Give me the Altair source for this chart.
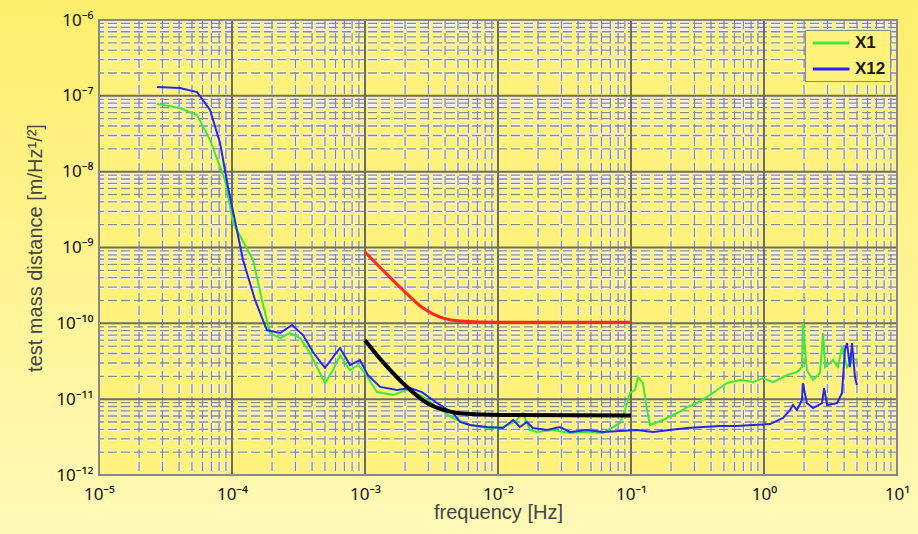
import altair as alt
import pandas as pd

# ---------------- data ----------------
freq_x1 = [2.73e-5, 4.06e-5, 5.46e-5, 6.84e-5, 8.85e-5, 1.02e-4, 1.44e-4, 1.68e-4, 1.93e-4, 2.30e-4,
           2.73e-4, 3.25e-4, 3.86e-4, 5.00e-4, 5.75e-4, 6.49e-4, 7.71e-4, 8.86e-4, 1.00e-3, 1.23e-3,
           1.62e-3, 2.07e-3, 2.59e-3, 3.48e-3, 4.59e-3, 6.15e-3, 8.26e-3, 1.09e-2, 1.34e-2, 1.54e-2,
           1.74e-2, 1.96e-2, 2.59e-2, 3.48e-2, 4.67e-2, 6.15e-2, 7.32e-2, 8.26e-2, 9.02e-2, 9.83e-2,
           0.107, 0.113, 0.123, 0.132, 0.139, 0.174, 0.222, 0.264, 0.313, 0.373,
           0.443, 0.527, 0.661, 0.826, 0.982, 1.17, 1.49, 1.77, 1.93, 1.96,
           2.10, 2.34, 2.64, 2.78, 2.88, 3.30, 3.60, 3.86, 4.21, 4.59, 5.00]
amp_x1 = [7.80e-8, 6.91e-8, 5.58e-8, 2.62e-8, 7.76e-9, 2.10e-9, 6.84e-10, 2.03e-10, 7.45e-11, 6.40e-11,
          7.45e-11, 6.40e-11, 4.06e-11, 1.63e-11, 2.42e-11, 3.82e-11, 2.42e-11, 2.82e-11, 2.21e-11, 1.24e-11,
          1.14e-11, 1.32e-11, 1.14e-11, 7.87e-12, 5.64e-12, 4.56e-12, 4.17e-12, 4.29e-12, 5.00e-12, 6.57e-12,
          3.92e-12, 3.69e-12, 3.92e-12, 3.58e-12, 3.69e-12, 3.58e-12, 4.29e-12, 4.85e-12, 7.19e-12, 1.21e-11,
          1.32e-11, 1.96e-11, 1.63e-11, 7.19e-12, 4.56e-12, 5.31e-12, 6.57e-12, 7.87e-12, 8.90e-12, 1.07e-11,
          1.32e-11, 1.63e-11, 1.79e-11, 1.68e-11, 1.90e-11, 1.68e-11, 2.08e-11, 2.28e-11, 2.65e-11, 1.01e-10,
          2.42e-11, 1.79e-11, 2.21e-11, 7.45e-11, 2.65e-11, 3.28e-11, 2.65e-11, 4.90e-11, 2.65e-11, 3.40e-11, 3.28e-11]

freq_x12 = [2.73e-5, 4.06e-5, 5.46e-5, 6.84e-5, 8.13e-5, 9.33e-5, 1.05e-4, 1.21e-4, 1.49e-4, 1.83e-4,
            2.30e-4, 2.83e-4, 3.42e-4, 4.06e-4, 5.00e-4, 6.49e-4, 7.71e-4, 9.17e-4, 1.05e-3, 1.30e-3,
            1.74e-3, 2.18e-3, 2.68e-3, 3.48e-3, 4.59e-3, 5.18e-3, 6.15e-3, 8.26e-3, 1.09e-2, 1.30e-2,
            1.46e-2, 1.65e-2, 1.83e-2, 2.34e-2, 2.92e-2, 3.48e-2, 4.67e-2, 6.15e-2, 8.26e-2, 0.111,
            0.146, 0.196, 0.264, 0.348, 0.467, 0.627, 0.826, 1.11, 1.39, 1.57,
            1.65, 1.77, 1.93, 1.96, 2.10, 2.34, 2.73, 2.83, 2.98, 3.54,
            3.86, 4.06, 4.21, 4.43, 4.59, 4.83, 5.00]
amp_x12 = [1.31e-7, 1.27e-7, 1.12e-7, 6.50e-8, 2.39e-8, 6.28e-9, 2.31e-9, 6.84e-10, 2.03e-10, 8.16e-11,
           7.45e-11, 9.50e-11, 7.01e-11, 4.19e-11, 2.58e-11, 4.73e-11, 2.82e-11, 3.28e-11, 2.08e-11, 1.45e-11,
           1.32e-11, 1.40e-11, 1.24e-11, 8.90e-12, 6.57e-12, 5.00e-12, 4.56e-12, 4.29e-12, 4.17e-12, 5.31e-12,
           4.29e-12, 5.00e-12, 4.17e-12, 3.92e-12, 4.29e-12, 3.69e-12, 3.92e-12, 3.69e-12, 3.80e-12, 3.92e-12,
           3.69e-12, 3.92e-12, 4.17e-12, 4.29e-12, 4.42e-12, 4.42e-12, 4.56e-12, 4.70e-12, 5.64e-12, 7.19e-12,
           8.37e-12, 7.19e-12, 9.75e-12, 1.63e-11, 8.90e-12, 7.64e-12, 8.90e-12, 1.40e-11, 8.37e-12, 8.90e-12,
           1.21e-11, 4.45e-11, 5.50e-11, 2.65e-11, 5.50e-11, 1.96e-11, 1.54e-11]

freq_red = [1e-3, 1.36e-3, 1.93e-3, 2.73e-3, 3.86e-3, 5.18e-3, 1e-2, 1e-1]
amp_red = [8.7e-10, 5.05e-10, 2.75e-10, 1.59e-10, 1.17e-10, 1.07e-10, 1.03e-10, 1.03e-10]

freq_black = [1e-3, 1.36e-3, 2.07e-3, 2.93e-3, 4.14e-3, 5.85e-3, 1.04e-2, 1e-1]
amp_black = [6.0e-11, 3.1e-11, 1.45e-11, 8.9e-12, 7.0e-12, 6.4e-12, 6.2e-12, 6.1e-12]

series_names = ["X1", "X12"]
series_colors = ["#3ee83e", "#2626f0"]

x_decades = [1e-5, 1e-4, 1e-3, 1e-2, 1e-1, 1, 10]
x_tick_labels = ["10⁻⁵", "10⁻⁴", "10⁻³", "10⁻²", "10⁻¹", "10⁰", "10¹"]
y_decades = [1e-12, 1e-11, 1e-10, 1e-9, 1e-8, 1e-7, 1e-6]
y_tick_labels = ["10⁻¹²", "10⁻¹¹", "10⁻¹⁰", "10⁻⁹", "10⁻⁸", "10⁻⁷", "10⁻⁶"]
minor_mult = [2, 3, 4, 5, 6, 7, 8, 9]

# ---------------- tables ----------------
df_lines = pd.concat([
    pd.DataFrame({"f": freq_x1, "a": amp_x1, "s": "X1"}),
    pd.DataFrame({"f": freq_x12, "a": amp_x12, "s": "X12"}),
])
df_red = pd.DataFrame({"f": freq_red, "a": amp_red})
df_black = pd.DataFrame({"f": freq_black, "a": amp_black})
x_major = pd.DataFrame({"f": x_decades})
x_minor = pd.DataFrame({"f": [m * d for d in x_decades[:-1] for m in minor_mult]})
y_major = pd.DataFrame({"a": y_decades})
y_minor = pd.DataFrame({"a": [m * d for d in y_decades[:-1] for m in minor_mult]})
one = pd.DataFrame({"k": [0]})

W, H = 798, 455
FONT = "Liberation Sans"
TICKFONT = "Noto Sans"

xs = alt.Scale(type="log", domain=[1e-5, 10], nice=False)
ys = alt.Scale(type="log", domain=[1e-12, 1e-6], nice=False)


def lab_expr(labels, offset):
    arr = "[" + ",".join("'" + s + "'" for s in labels) + "]"
    return f"{arr}[round(log(datum.value)/LN10)+{offset}]"


x_axis = alt.Axis(values=x_decades, labelExpr=lab_expr(x_tick_labels, 5), grid=False, ticks=False,
                  domain=False, labelFlush=False, labelOverlap=False, labelFont=TICKFONT, labelFontSize=17,
                  labelColor="#111", labelPadding=11, titleFont=FONT,
                  titleFontSize=20, titleFontWeight="normal", titleColor="#444", titlePadding=0,
                  zindex=1)
y_axis = alt.Axis(values=y_decades, labelExpr=lab_expr(y_tick_labels, 12), grid=False, ticks=False,
                  domain=False, labelOverlap=False, labelFont=TICKFONT, labelFontSize=17,
                  labelColor="#111", labelPadding=6, titleFont=FONT,
                  titleFontSize=20, titleFontWeight="normal", titleColor="#444", titlePadding=10,
                  zindex=1)


def X():
    return alt.X("f:Q", scale=xs, axis=x_axis, title="frequency [Hz]")


def Y():
    return alt.Y("a:Q", scale=ys, axis=y_axis, title="test mass distance [m/Hz¹/²]")


bg = alt.Chart(one).mark_rect(
    fill=alt.Gradient(gradient="linear", x1=0, x2=0, y1=0, y2=1,
                      stops=[alt.GradientStop(color="#fdee6c", offset=0),
                             alt.GradientStop(color="#fff9b8", offset=1)])
).encode(x=alt.value(-99), x2=alt.value(819), y=alt.value(-20), y2=alt.value(514))

plot_bg = alt.Chart(one).mark_rect(fill="#fff27c").encode(
    x=alt.value(0), x2=alt.value(W), y=alt.value(0), y2=alt.value(H))

gx_minor_halo = alt.Chart(x_minor).mark_rule(color="#f6f6f0", strokeWidth=3.5, strokeDash=[9, 4]).encode(x=X())
gy_minor_halo = alt.Chart(y_minor).mark_rule(color="#f6f6f0", strokeWidth=3.5, strokeDash=[9, 4]).encode(y=Y())
gx_minor = alt.Chart(x_minor).mark_rule(color="#8a8a8a", strokeWidth=1.3, strokeDash=[9, 4]).encode(x=X())
gy_minor = alt.Chart(y_minor).mark_rule(color="#8a8a8a", strokeWidth=1.3, strokeDash=[9, 4]).encode(y=Y())
gx_major = alt.Chart(x_major).mark_rule(color="#6c6c6c", strokeWidth=2).encode(x=X())
gy_major = alt.Chart(y_major).mark_rule(color="#6c6c6c", strokeWidth=2).encode(y=Y())

lines = alt.Chart(df_lines).mark_line(strokeWidth=2).encode(
    x=X(),
    y=Y(),
    color=alt.Color("s:N", scale=alt.Scale(domain=series_names, range=series_colors),
                    legend=alt.Legend(title=None, orient="none", legendX=706, legendY=10,
                                      symbolType="M-0.7,0H4.2", symbolSize=225, symbolStrokeWidth=3,
                                      labelFont=FONT, labelFontSize=17, labelFontWeight="bold",
                                      labelColor="#1a1a1a", labelOffset=28, padding=4, rowPadding=9,
                                      fillColor="#fff27c", strokeColor="#888", zindex=1)),
)

red = alt.Chart(df_red).mark_line(color="#ff2a1a", strokeWidth=3, interpolate="monotone").encode(x=X(), y=Y())
black = alt.Chart(df_black).mark_line(color="#000000", strokeWidth=4, interpolate="monotone").encode(x=X(), y=Y())

frame = alt.Chart(one).mark_rect(fillOpacity=0, stroke="#888888", strokeWidth=2).encode(
    x=alt.value(0), x2=alt.value(W), y=alt.value(0), y2=alt.value(H))

chart = alt.layer(
    bg, plot_bg, gx_minor_halo, gy_minor_halo, gx_minor, gy_minor, gx_major, gy_major,
    lines, red, black, frame
).properties(
    width=W, height=H,
    autosize=alt.AutoSizeParams(type="none"),
    padding={"left": 99, "top": 20, "right": 21, "bottom": 59},
    background="#fff6a0",
).configure_view(strokeWidth=0)

chart.save("out.html", embed_options={"renderer": "svg", "actions": False})
